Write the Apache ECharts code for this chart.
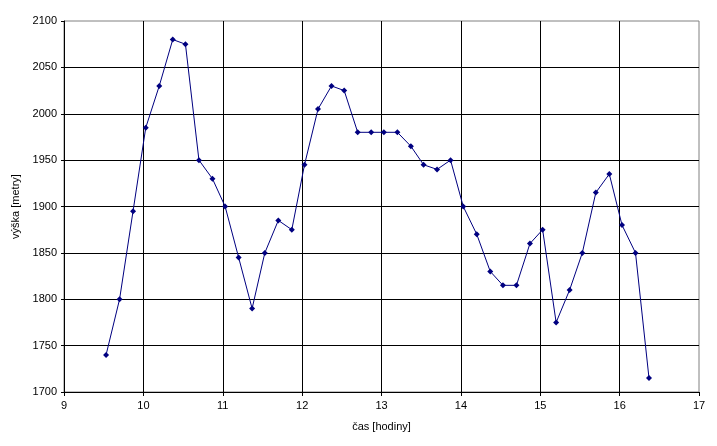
<!DOCTYPE html>
<html>
<head>
<meta charset="utf-8">
<script src="https://cdn.jsdelivr.net/npm/echarts@6/dist/echarts.min.js"></script>
<style>
html,body{margin:0;padding:0;background:#fff;}
#chart{width:717px;height:446px;}
</style>
</head>
<body>
<div id="chart"></div>
<script>
// time in hours
const times = [9.53, 9.70, 9.87, 10.03, 10.20, 10.37, 10.53, 10.70, 10.87, 11.03,
  11.20, 11.37, 11.53, 11.70, 11.87, 12.03, 12.20, 12.37, 12.53, 12.70,
  12.87, 13.03, 13.20, 13.37, 13.53, 13.70, 13.87, 14.03, 14.20, 14.37,
  14.53, 14.70, 14.87, 15.03, 15.20, 15.37, 15.53, 15.70, 15.87, 16.03,
  16.20, 16.37];
// altitude in metres
const heights = [1740, 1800, 1895, 1985, 2030, 2080, 2075, 1950, 1930, 1900,
  1845, 1790, 1850, 1885, 1875, 1945, 2005, 2030, 2025, 1980,
  1980, 1980, 1980, 1965, 1945, 1940, 1950, 1900, 1870, 1830,
  1815, 1815, 1860, 1875, 1775, 1810, 1850, 1915, 1935, 1880,
  1850, 1715];
const xName = 'čas [hodiny]';
const yName = 'výška [metry]';

const data = times.map((t, i) => [t, heights[i]]);
const font = 'Liberation Sans, Arial, sans-serif';

const chart = echarts.init(document.getElementById('chart'));
chart.setOption({
  backgroundColor: '#ffffff',
  animation: false,
  grid: {
    left: 64, right: 18, top: 21, bottom: 54,
    show: true, borderColor: '#808080', borderWidth: 1, backgroundColor: 'transparent'
  },
  xAxis: {
    type: 'value', min: 9, max: 17, interval: 1,
    name: xName, nameLocation: 'middle', nameGap: 29,
    nameTextStyle: { color: '#000', fontFamily: font, fontSize: 11 },
    axisLine: { show: true, lineStyle: { color: '#000', width: 1 } },
    axisTick: { show: true, length: 4, lineStyle: { color: '#000' } },
    axisLabel: { color: '#000', fontFamily: font, fontSize: 11, margin: 8, formatter: v => String(v) },
    splitLine: { show: true, showMinLine: false, showMaxLine: false, lineStyle: { color: '#000', width: 1 } }
  },
  yAxis: {
    type: 'value', min: 1700, max: 2100, interval: 50,
    name: yName, nameLocation: 'middle', nameGap: 40, nameRotate: 90,
    nameTextStyle: { color: '#000', fontFamily: font, fontSize: 11 },
    axisLine: { show: true, lineStyle: { color: '#000', width: 1 } },
    axisTick: { show: true, length: 3, lineStyle: { color: '#000' } },
    axisLabel: { color: '#000', fontFamily: font, fontSize: 11, margin: 7, formatter: v => String(v) },
    splitLine: { show: true, showMinLine: false, showMaxLine: false, lineStyle: { color: '#000', width: 1 } }
  },
  series: [{
    type: 'line',
    data: data,
    symbol: 'diamond',
    symbolSize: 6,
    showSymbol: true,
    itemStyle: { color: '#000080' },
    lineStyle: { color: '#000080', width: 1 }
  }]
});
</script>
</body>
</html>
